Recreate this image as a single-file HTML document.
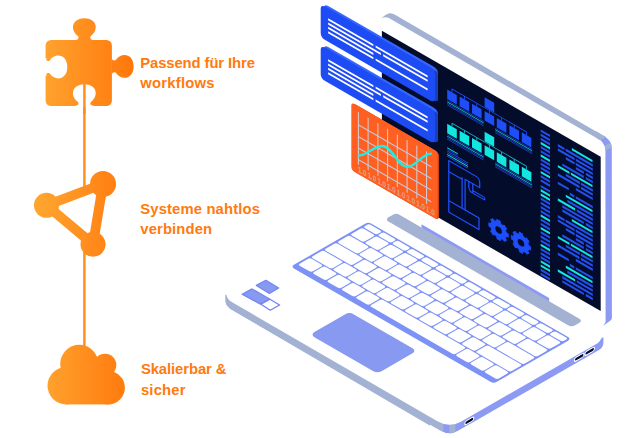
<!DOCTYPE html>
<html><head><meta charset="utf-8"><title>Illustration</title>
<style>html,body{margin:0;padding:0;background:#fff;}svg{display:block;}</style></head>
<body><svg width="626" height="438" viewBox="0 0 626 438">
<rect width="626" height="438" fill="#fff"/>
<defs>
<linearGradient id="og" gradientUnits="userSpaceOnUse" x1="45" y1="0" x2="135" y2="0">
<stop offset="0" stop-color="#FFA22E"/><stop offset="1" stop-color="#FF760A"/></linearGradient>
</defs>
<rect x="83.2" y="84" width="2.4" height="105" fill="#FF8C1C"/>
<rect x="83.2" y="250" width="2.4" height="98" fill="#FF8C1C"/>
<rect x="45.6" y="39.9" width="66.3" height="66.1" rx="5.5" fill="url(#og)"/>
<path d="M74.90 40.20 C77.90 40.20 79.10 38.20 78.10 36.00 C69.60 30.20 71.80 18.20 84.40 18.20 C97.00 18.20 99.20 30.20 90.70 36.00 C89.70 38.20 90.90 40.20 93.90 40.20 Z" fill="url(#og)"/>
<path d="M111.60 56.90 C111.60 59.90 113.60 61.10 115.80 60.10 C121.60 51.60 133.60 53.80 133.60 66.40 C133.60 79.00 121.60 81.20 115.80 72.70 C113.60 71.70 111.60 72.90 111.60 75.90 Z" fill="url(#og)"/>
<path d="M45.30 57.50 C45.30 60.50 47.30 61.70 49.50 60.70 C55.30 52.20 67.30 54.40 67.30 67.00 C67.30 79.60 55.30 81.80 49.50 73.30 C47.30 72.30 45.30 73.50 45.30 76.50 Z" fill="#fff"/>
<path d="M74.90 106.30 C77.90 106.30 79.10 104.30 78.10 102.10 C69.60 96.30 71.80 84.30 84.40 84.30 C97.00 84.30 99.20 96.30 90.70 102.10 C89.70 104.30 90.90 106.30 93.90 106.30 Z" fill="#fff"/>
<rect x="44.4" y="58.2" width="2" height="17.6" fill="#fff"/><rect x="75.6" y="105.4" width="17.6" height="2" fill="#fff"/>
<rect x="83.2" y="84" width="2.4" height="30" fill="#FF8C1C"/>
<g fill="url(#og)" stroke="url(#og)"><path d="M103 184 L46.5 205.3 L93 244.3 Z" fill="none" stroke-width="9.8" stroke-linejoin="round"/><circle cx="103" cy="184" r="13" stroke="none"/><circle cx="46.5" cy="205.3" r="12.5" stroke="none"/><circle cx="93" cy="244.3" r="12.5" stroke="none"/></g>
<g fill="url(#og)"><circle cx="79.3" cy="363.9" r="19.1"/><circle cx="105" cy="365" r="11.3"/><circle cx="66.2" cy="385.7" r="18.7"/><circle cx="108.2" cy="387.7" r="16.7"/><rect x="66" y="372" width="43" height="32.4"/></g>
<path d="M225.6 294.71999999999997 L225.6 301.32 Q225.6 305.71999999999997 231.0 309.22 L231.00 309.22 L441.40 431.25 Q449.40 435.90 457.40 431.35 L599.00 349.93 Q603.4 346.82500000000005 603.4 342.62500000000006 L603.4 337.52500000000003 L600.0 338.02500000000003 L449.4 398.3 Z" fill="#8C9AF4"/>
<path d="M225.6 294.71999999999997 L225.6 301.32 Q225.6 305.71999999999997 231.0 309.22 L443.4 433.41 L443.4 421.81 L231.0 295.71999999999997 Z" fill="#A3B2D3"/>
<polygon points="449.30,420.00 455.40,420.00 455.40,440.00 449.30,440.00" fill="#A3B2D3" />
<path d="M430 424.64 L441.40 431.25 Q449.40 435.90 457.40 431.35 L470 424.10 L470 438 L430 438 Z" fill="#fff"/>
<path d="M226.3 292.71999999999997 Q226.3 299.32 233.0 302.78 L437.40 421.33 Q449.40 428.30 461.40 421.45 L598.00 342.90 Q602.1 339.425 602.1 334.02500000000003 L602.1 300 L400 200 Z" fill="#fff"/>
<g transform="matrix(1 -0.576 0 1 469.3 420.9)"><rect x="-4.5" y="-1.85" width="9.0" height="3.7" rx="1.85" fill="#060A24" stroke="#fff" stroke-width="1.1"/></g>
<g transform="matrix(1 -0.576 0 1 579.2 357.3)"><rect x="-4.8" y="-1.85" width="9.6" height="3.7" rx="1.85" fill="#060A24" stroke="#fff" stroke-width="1.1"/></g>
<g transform="matrix(1 -0.576 0 1 589.7 351.3)"><rect x="-4.8" y="-1.85" width="9.6" height="3.7" rx="1.85" fill="#060A24" stroke="#fff" stroke-width="1.1"/></g>
<polygon points="256.30,285.40 265.90,280.20 278.70,288.00 269.40,293.40" fill="#8799F0" stroke="#7186F3" stroke-width="1.2" stroke-linejoin="round"/>
<polygon points="242.10,294.20 252.00,288.90 269.60,298.90 260.40,304.10" fill="#8799F0" stroke="#7186F3" stroke-width="1.2" stroke-linejoin="round"/>
<polygon points="260.90,304.30 269.90,299.20 279.60,305.00 270.20,310.20" fill="#fff" stroke="#6F84F4" stroke-width="1.3" stroke-linejoin="round"/>
<g transform="matrix(1 0.576 -1 0.576 349.4 311.8)"><rect x="0" y="0" width="67.6" height="39.5" rx="4.5" fill="#8799F0"/></g>
<g transform="matrix(1 0.576 -1 0.576 368.3 222.5)">
<rect x="-0.5" y="-0.5" width="203.0" height="77.60000000000001" rx="3.2" fill="#7E92F6"/>
<rect x="1.43" y="0.90" width="13.25" height="5.70" rx="1.7" fill="#fff"/>
<rect x="15.72" y="0.90" width="13.25" height="5.70" rx="1.7" fill="#fff"/>
<rect x="30.02" y="0.90" width="13.25" height="5.70" rx="1.7" fill="#fff"/>
<rect x="44.32" y="0.90" width="13.25" height="5.70" rx="1.7" fill="#fff"/>
<rect x="58.62" y="0.90" width="13.25" height="5.70" rx="1.7" fill="#fff"/>
<rect x="72.92" y="0.90" width="13.25" height="5.70" rx="1.7" fill="#fff"/>
<rect x="87.22" y="0.90" width="13.25" height="5.70" rx="1.7" fill="#fff"/>
<rect x="101.52" y="0.90" width="13.25" height="5.70" rx="1.7" fill="#fff"/>
<rect x="115.82" y="0.90" width="13.25" height="5.70" rx="1.7" fill="#fff"/>
<rect x="130.12" y="0.90" width="13.25" height="5.70" rx="1.7" fill="#fff"/>
<rect x="144.43" y="0.90" width="13.25" height="5.70" rx="1.7" fill="#fff"/>
<rect x="158.73" y="0.90" width="13.25" height="5.70" rx="1.7" fill="#fff"/>
<rect x="173.03" y="0.90" width="13.25" height="5.70" rx="1.7" fill="#fff"/>
<rect x="187.33" y="0.90" width="13.25" height="5.70" rx="1.7" fill="#fff"/>
<rect x="1.43" y="7.65" width="13.25" height="11.99" rx="1.7" fill="#fff"/>
<rect x="15.72" y="7.65" width="13.25" height="11.99" rx="1.7" fill="#fff"/>
<rect x="30.02" y="7.65" width="13.25" height="11.99" rx="1.7" fill="#fff"/>
<rect x="44.32" y="7.65" width="13.25" height="11.99" rx="1.7" fill="#fff"/>
<rect x="58.62" y="7.65" width="13.25" height="11.99" rx="1.7" fill="#fff"/>
<rect x="72.92" y="7.65" width="13.25" height="11.99" rx="1.7" fill="#fff"/>
<rect x="87.22" y="7.65" width="13.25" height="11.99" rx="1.7" fill="#fff"/>
<rect x="101.52" y="7.65" width="13.25" height="11.99" rx="1.7" fill="#fff"/>
<rect x="115.82" y="7.65" width="13.25" height="11.99" rx="1.7" fill="#fff"/>
<rect x="130.12" y="7.65" width="13.25" height="11.99" rx="1.7" fill="#fff"/>
<rect x="144.43" y="7.65" width="13.25" height="11.99" rx="1.7" fill="#fff"/>
<rect x="158.73" y="7.65" width="13.25" height="11.99" rx="1.7" fill="#fff"/>
<rect x="173.03" y="7.65" width="13.25" height="11.99" rx="1.7" fill="#fff"/>
<rect x="187.33" y="7.65" width="13.25" height="11.99" rx="1.7" fill="#fff"/>
<rect x="1.43" y="20.69" width="20.40" height="11.99" rx="1.7" fill="#fff"/>
<rect x="22.88" y="20.69" width="13.25" height="11.99" rx="1.7" fill="#fff"/>
<rect x="37.17" y="20.69" width="13.25" height="11.99" rx="1.7" fill="#fff"/>
<rect x="51.47" y="20.69" width="13.25" height="11.99" rx="1.7" fill="#fff"/>
<rect x="65.77" y="20.69" width="13.25" height="11.99" rx="1.7" fill="#fff"/>
<rect x="80.07" y="20.69" width="13.25" height="11.99" rx="1.7" fill="#fff"/>
<rect x="94.37" y="20.69" width="13.25" height="11.99" rx="1.7" fill="#fff"/>
<rect x="108.67" y="20.69" width="13.25" height="11.99" rx="1.7" fill="#fff"/>
<rect x="122.97" y="20.69" width="13.25" height="11.99" rx="1.7" fill="#fff"/>
<rect x="137.28" y="20.69" width="13.25" height="11.99" rx="1.7" fill="#fff"/>
<rect x="151.58" y="20.69" width="13.25" height="11.99" rx="1.7" fill="#fff"/>
<rect x="165.88" y="20.69" width="13.25" height="11.99" rx="1.7" fill="#fff"/>
<rect x="180.18" y="20.69" width="20.40" height="11.99" rx="1.7" fill="#fff"/>
<rect x="1.43" y="33.73" width="27.55" height="11.99" rx="1.7" fill="#fff"/>
<rect x="30.02" y="33.73" width="13.25" height="11.99" rx="1.7" fill="#fff"/>
<rect x="44.32" y="33.73" width="13.25" height="11.99" rx="1.7" fill="#fff"/>
<rect x="58.62" y="33.73" width="13.25" height="11.99" rx="1.7" fill="#fff"/>
<rect x="72.92" y="33.73" width="13.25" height="11.99" rx="1.7" fill="#fff"/>
<rect x="87.22" y="33.73" width="13.25" height="11.99" rx="1.7" fill="#fff"/>
<rect x="101.52" y="33.73" width="13.25" height="11.99" rx="1.7" fill="#fff"/>
<rect x="115.82" y="33.73" width="13.25" height="11.99" rx="1.7" fill="#fff"/>
<rect x="130.12" y="33.73" width="13.25" height="11.99" rx="1.7" fill="#fff"/>
<rect x="144.43" y="33.73" width="13.25" height="11.99" rx="1.7" fill="#fff"/>
<rect x="158.73" y="33.73" width="13.25" height="11.99" rx="1.7" fill="#fff"/>
<rect x="173.03" y="33.73" width="27.55" height="11.99" rx="1.7" fill="#fff"/>
<rect x="1.43" y="46.77" width="20.40" height="11.99" rx="1.7" fill="#fff"/>
<rect x="22.88" y="46.77" width="13.25" height="11.99" rx="1.7" fill="#fff"/>
<rect x="37.17" y="46.77" width="13.25" height="11.99" rx="1.7" fill="#fff"/>
<rect x="51.47" y="46.77" width="13.25" height="11.99" rx="1.7" fill="#fff"/>
<rect x="65.77" y="46.77" width="13.25" height="11.99" rx="1.7" fill="#fff"/>
<rect x="80.07" y="46.77" width="13.25" height="11.99" rx="1.7" fill="#fff"/>
<rect x="94.37" y="46.77" width="13.25" height="11.99" rx="1.7" fill="#fff"/>
<rect x="108.67" y="46.77" width="13.25" height="11.99" rx="1.7" fill="#fff"/>
<rect x="122.97" y="46.77" width="13.25" height="11.99" rx="1.7" fill="#fff"/>
<rect x="137.28" y="46.77" width="13.25" height="11.99" rx="1.7" fill="#fff"/>
<rect x="151.58" y="46.77" width="13.25" height="11.99" rx="1.7" fill="#fff"/>
<rect x="165.88" y="46.77" width="34.70" height="11.99" rx="1.7" fill="#fff"/>
<rect x="1.43" y="59.81" width="13.25" height="11.99" rx="1.7" fill="#fff"/>
<rect x="15.72" y="59.81" width="13.25" height="11.99" rx="1.7" fill="#fff"/>
<rect x="30.02" y="59.81" width="13.25" height="11.99" rx="1.7" fill="#fff"/>
<rect x="44.32" y="59.81" width="13.25" height="11.99" rx="1.7" fill="#fff"/>
<rect x="58.62" y="59.81" width="13.25" height="11.99" rx="1.7" fill="#fff"/>
<rect x="72.92" y="59.81" width="84.75" height="11.99" rx="1.7" fill="#fff"/>
<rect x="158.73" y="59.81" width="13.25" height="11.99" rx="1.7" fill="#fff"/>
<rect x="173.03" y="59.81" width="13.25" height="11.99" rx="1.7" fill="#fff"/>
<rect x="187.33" y="59.81" width="13.25" height="11.99" rx="1.7" fill="#fff"/>
</g>
<polygon points="421.50,224.30 549.10,298.05 549.10,303.50 421.50,230.00" fill="#8C9AF4" />
<g transform="matrix(1 0.578 -1 0.578 396.2 212.8)"><rect x="0" y="0" width="186.8" height="11.4" rx="3.6" fill="#A3B2D3"/></g>
<path d="M596 137.68 L596 131.36 L603 135.42 C606.5 137.4 609.5 140 610.6 142.8 C611.4 144.8 611.8 146.5 611.8 148.5 L611.9 317.8 Q611.9 319.6 610.5 320.5 L603.3 325.7 L605.6 322 L605.4 150.7 C605.4 148 605 146.8 604.4 145.7 C603.5 143.6 602 141.5 600.4 140.22 Z" fill="#8C9AF4"/>
<path d="M381.2 18.4 C383.5 16.6 386.5 13.2 390.3 13.2 C392 13.2 393.5 14 395 14.78 L603 135.42 C604.2 135.9 605.2 136.5 606.1 137.1 L600.4 140.22 L388.4 17.68 Q385 16.3 381.2 18.4 Z" fill="#A3B2D3"/>
<path d="M610.6 142.8 C611.4 144.8 611.8 146.5 611.8 147.6 L605.4 150.7 C605.4 148 605 146.8 604.4 145.7 Z" fill="#A3B2D3"/>
<polygon points="381.90,30.80 600.70,156.83 600.70,311.03 381.90,185.00" fill="#030C2B" />
<g transform="matrix(1 0.576 0 1 447.2 89.4)">
<rect x="0" y="0" width="9.6" height="9.6" fill="#1D4EF8"/>
<rect x="12.4" y="0" width="9.6" height="9.6" fill="#1D4EF8"/>
<rect x="24.8" y="0" width="9.6" height="9.6" fill="#1D4EF8"/>
<rect x="37.4" y="0" width="9.6" height="9.6" fill="#1D4EF8"/>
<rect x="49.6" y="0" width="9.6" height="9.6" fill="#1D4EF8"/>
<rect x="62.2" y="0" width="9.6" height="9.6" fill="#1D4EF8"/>
<rect x="74.6" y="0" width="9.6" height="9.6" fill="#1D4EF8"/>
<rect x="37.4" y="-13.6" width="9.6" height="9.6" fill="#1D4EF8"/>
<path d="M4.8 -3.2 H79.4 M4.8 -3.2 V0 M17.2 -3.2 V0 M29.6 -3.2 V0 M42.199999999999996 -3.2 V0 M54.4 -3.2 V0 M67.0 -3.2 V0 M79.39999999999999 -3.2 V0 M42.2 -4 V0 " stroke="#1D4EF8" stroke-width="0.9" fill="none"/>
<rect x="0" y="10.6" width="36.5" height="0.8" fill="#1F49D8"/>
<rect x="0" y="12.1" width="36.5" height="0.8" fill="#12E6E0"/>
<rect x="0" y="13.6" width="36.5" height="0.8" fill="#1F49D8"/>
<rect x="0" y="15.1" width="36.5" height="0.8" fill="#1F49D8"/>
<rect x="48" y="10.6" width="37" height="0.8" fill="#1F49D8"/>
<rect x="48" y="12.1" width="37" height="0.8" fill="#12E6E0"/>
<rect x="48" y="13.6" width="37" height="0.8" fill="#1F49D8"/>
<rect x="48" y="15.1" width="37" height="0.8" fill="#1F49D8"/>
<rect x="0" y="34.3" width="9.6" height="9.6" fill="#12E6E0"/>
<rect x="12.4" y="34.3" width="9.6" height="9.6" fill="#12E6E0"/>
<rect x="24.8" y="34.3" width="9.6" height="9.6" fill="#12E6E0"/>
<rect x="37.4" y="34.3" width="9.6" height="9.6" fill="#12E6E0"/>
<rect x="49.6" y="34.3" width="9.6" height="9.6" fill="#12E6E0"/>
<rect x="62.2" y="34.3" width="9.6" height="9.6" fill="#12E6E0"/>
<rect x="74.6" y="34.3" width="9.6" height="9.6" fill="#12E6E0"/>
<rect x="37.4" y="20.699999999999996" width="9.6" height="9.6" fill="#12E6E0"/>
<path d="M4.8 31.099999999999998 H79.4 M4.8 31.099999999999998 V34.3 M17.2 31.099999999999998 V34.3 M29.6 31.099999999999998 V34.3 M42.199999999999996 31.099999999999998 V34.3 M54.4 31.099999999999998 V34.3 M67.0 31.099999999999998 V34.3 M79.39999999999999 31.099999999999998 V34.3 M42.2 30.299999999999997 V34.3 " stroke="#19B8C8" stroke-width="0.9" fill="none"/>
<rect x="0" y="44.9" width="36.5" height="0.8" fill="#1F49D8"/>
<rect x="0" y="46.4" width="36.5" height="0.8" fill="#12E6E0"/>
<rect x="0" y="47.9" width="36.5" height="0.8" fill="#1F49D8"/>
<rect x="0" y="49.4" width="36.5" height="0.8" fill="#1F49D8"/>
<rect x="48" y="44.9" width="37" height="0.8" fill="#1F49D8"/>
<rect x="48" y="46.4" width="37" height="0.8" fill="#12E6E0"/>
<rect x="48" y="47.9" width="37" height="0.8" fill="#1F49D8"/>
<rect x="48" y="49.4" width="37" height="0.8" fill="#1F49D8"/>
<rect x="0" y="57.8" width="10.5" height="0.95" fill="#12E6E0"/>
<rect x="0" y="59.5" width="10.5" height="0.95" fill="#1F49D8"/>
<rect x="0" y="61.2" width="20.8" height="0.95" fill="#1F49D8"/>
<rect x="0" y="62.9" width="20.8" height="0.95" fill="#1F49D8"/>
<rect x="0" y="64.6" width="20.8" height="0.95" fill="#12E6E0"/>
<rect x="0" y="66.3" width="20.8" height="0.95" fill="#1F49D8"/>
</g>
<g transform="matrix(1 0.576 0 1 448.8 160.6)" fill="none" stroke="#1D4EF8" stroke-width="1.3" stroke-linejoin="round" stroke-linecap="round">
<path d="M0 0 H26.9 Q30.9 0 30.9 4 V9.3 H16.3 V40 H30.2 V51.5 H0 Z"/>
<path d="M0 11 H13.3 V40 M0 40 H16.3 M13.3 11 V9.3"/>
<path d="M20 9.3 V15.5 L21.5 18.5 H24 V16.2 H34.4 Q36 16.2 36 17.5 Q36 18.8 34.4 18.8 H24 M24 9.3 V16.2"/>
</g>
<g transform="matrix(1 0.576 0 1 498.6 230.0)"><path d="M7.77 -1.90 L9.76 -1.67 L9.76 1.67 L7.77 1.90 L6.84 4.15 L8.08 5.72 L5.72 8.08 L4.15 6.84 L1.90 7.77 L1.67 9.76 L-1.67 9.76 L-1.90 7.77 L-4.15 6.84 L-5.72 8.08 L-8.08 5.72 L-6.84 4.15 L-7.77 1.90 L-9.76 1.67 L-9.76 -1.67 L-7.77 -1.90 L-6.84 -4.15 L-8.08 -5.72 L-5.72 -8.08 L-4.15 -6.84 L-1.90 -7.77 L-1.67 -9.76 L1.67 -9.76 L1.90 -7.77 L4.15 -6.84 L5.72 -8.08 L8.08 -5.72 L6.84 -4.15 Z" fill="#1D4EF8" stroke="#1D4EF8" stroke-width="0.8" stroke-linejoin="round"/><circle r="7.7" fill="#1D4EF8"/><circle r="3.3" fill="#030C2B"/></g>
<g transform="matrix(1 0.576 0 1 521.0 242.8)"><path d="M7.77 -1.90 L9.76 -1.67 L9.76 1.67 L7.77 1.90 L6.84 4.15 L8.08 5.72 L5.72 8.08 L4.15 6.84 L1.90 7.77 L1.67 9.76 L-1.67 9.76 L-1.90 7.77 L-4.15 6.84 L-5.72 8.08 L-8.08 5.72 L-6.84 4.15 L-7.77 1.90 L-9.76 1.67 L-9.76 -1.67 L-7.77 -1.90 L-6.84 -4.15 L-8.08 -5.72 L-5.72 -8.08 L-4.15 -6.84 L-1.90 -7.77 L-1.67 -9.76 L1.67 -9.76 L1.90 -7.77 L4.15 -6.84 L5.72 -8.08 L8.08 -5.72 L6.84 -4.15 Z" fill="#1D4EF8" stroke="#1D4EF8" stroke-width="0.8" stroke-linejoin="round"/><circle r="7.7" fill="#1D4EF8"/><circle r="3.3" fill="#030C2B"/></g>
<g transform="matrix(1 0.576 0 1 540.7 0)">
<rect x="0" y="129.40" width="9.3" height="2.35" fill="#2450EE"/>
<rect x="0" y="133.55" width="9.3" height="2.35" fill="#2450EE"/>
<rect x="0" y="137.70" width="9.3" height="2.35" fill="#2450EE"/>
<rect x="0" y="141.85" width="9.3" height="2.35" fill="#12E6E0"/>
<rect x="0" y="146.00" width="9.3" height="2.35" fill="#2450EE"/>
<rect x="0" y="150.15" width="9.3" height="2.35" fill="#2450EE"/>
<rect x="0" y="154.30" width="9.3" height="2.35" fill="#12E6E0"/>
<rect x="0" y="158.45" width="9.3" height="2.35" fill="#2450EE"/>
<rect x="0" y="162.60" width="9.3" height="2.35" fill="#2450EE"/>
<rect x="0" y="166.75" width="9.3" height="2.35" fill="#2450EE"/>
<rect x="0" y="170.90" width="9.3" height="2.35" fill="#12E6E0"/>
<rect x="0" y="175.05" width="9.3" height="2.35" fill="#2450EE"/>
<rect x="0" y="179.20" width="9.3" height="2.35" fill="#2450EE"/>
<rect x="0" y="184.90" width="9.3" height="2.35" fill="#2450EE"/>
<rect x="0" y="189.10" width="9.3" height="2.35" fill="#12E6E0"/>
<rect x="0" y="193.30" width="9.3" height="2.35" fill="#12E6E0"/>
<rect x="0" y="197.50" width="9.3" height="2.35" fill="#2450EE"/>
<rect x="0" y="201.70" width="9.3" height="2.35" fill="#2450EE"/>
<rect x="0" y="205.90" width="9.3" height="2.35" fill="#2450EE"/>
<rect x="0" y="210.10" width="9.3" height="2.35" fill="#2450EE"/>
<rect x="0" y="214.30" width="9.3" height="2.35" fill="#12E6E0"/>
<rect x="0" y="218.50" width="9.3" height="2.35" fill="#2450EE"/>
<rect x="0" y="222.70" width="9.3" height="2.35" fill="#2450EE"/>
<rect x="0" y="226.90" width="9.3" height="2.35" fill="#12E6E0"/>
<rect x="0" y="231.10" width="9.3" height="2.35" fill="#2450EE"/>
<rect x="0" y="235.30" width="9.3" height="2.35" fill="#2450EE"/>
<rect x="0" y="239.50" width="9.3" height="2.35" fill="#2450EE"/>
<rect x="0" y="243.70" width="9.3" height="2.35" fill="#12E6E0"/>
<rect x="0" y="247.90" width="9.3" height="2.35" fill="#2450EE"/>
<rect x="0" y="252.10" width="9.3" height="2.35" fill="#2450EE"/>
<rect x="0" y="256.10" width="9.3" height="2.35" fill="#2450EE"/>
<rect x="0" y="260.25" width="9.3" height="2.35" fill="#12E6E0"/>
<rect x="0" y="264.40" width="9.3" height="2.35" fill="#12E6E0"/>
<rect x="0" y="268.55" width="9.3" height="2.35" fill="#2450EE"/>
<rect x="0" y="272.70" width="9.3" height="2.35" fill="#2450EE"/>
</g>
<g transform="matrix(1 0.576 0 1 557.8 139.95)">
<rect x="14" y="0.00" width="20.7" height="2.35" fill="#12E6E0"/>
<rect x="0" y="4.17" width="6.7" height="2.35" fill="#2450EE"/>
<rect x="7.8" y="4.17" width="27.2" height="2.35" fill="#2450EE"/>
<rect x="0" y="8.35" width="16.8" height="2.35" fill="#2450EE"/>
<rect x="18" y="8.35" width="17.0" height="2.35" fill="#2450EE"/>
<rect x="8" y="12.52" width="8.8" height="2.35" fill="#2450EE"/>
<rect x="18" y="12.52" width="17.0" height="2.35" fill="#2450EE"/>
<rect x="18" y="16.69" width="8.0" height="2.35" fill="#2450EE"/>
<rect x="28" y="16.69" width="7.0" height="2.35" fill="#2450EE"/>
<rect x="4.5" y="20.87" width="21.5" height="2.35" fill="#2450EE"/>
<rect x="28" y="20.87" width="7.0" height="2.35" fill="#2450EE"/>
<rect x="0" y="25.04" width="11.7" height="2.35" fill="#12E6E0"/>
<rect x="13" y="25.04" width="21.7" height="2.35" fill="#12E6E0"/>
<rect x="8" y="29.21" width="14.0" height="2.35" fill="#2450EE"/>
<rect x="23" y="29.21" width="12.0" height="2.35" fill="#2450EE"/>
<rect x="0" y="33.38" width="21.7" height="2.35" fill="#2450EE"/>
<rect x="23" y="33.38" width="12.0" height="2.35" fill="#2450EE"/>
<rect x="18" y="37.56" width="17.0" height="2.35" fill="#2450EE"/>
<rect x="0" y="41.73" width="11.0" height="2.35" fill="#2450EE"/>
<rect x="12" y="45.90" width="4.5" height="2.35" fill="#2450EE"/>
<rect x="18" y="45.90" width="17.0" height="2.35" fill="#2450EE"/>
<rect x="8" y="50.08" width="26.7" height="2.35" fill="#12E6E0"/>
<rect x="9.5" y="54.25" width="25.5" height="2.35" fill="#2450EE"/>
<rect x="0" y="58.42" width="17.3" height="2.35" fill="#12E6E0"/>
<rect x="19" y="58.42" width="16.0" height="2.35" fill="#2450EE"/>
<rect x="4.5" y="62.59" width="30.5" height="2.35" fill="#2450EE"/>
<rect x="4.5" y="66.77" width="21.5" height="2.35" fill="#2450EE"/>
<rect x="28" y="66.77" width="7.0" height="2.35" fill="#2450EE"/>
<rect x="14" y="70.94" width="20.7" height="2.35" fill="#12E6E0"/>
<rect x="0" y="75.11" width="6.7" height="2.35" fill="#2450EE"/>
<rect x="7.8" y="75.11" width="27.2" height="2.35" fill="#2450EE"/>
<rect x="0" y="79.29" width="16.8" height="2.35" fill="#2450EE"/>
<rect x="18" y="79.29" width="17.0" height="2.35" fill="#2450EE"/>
<rect x="8" y="83.46" width="8.8" height="2.35" fill="#2450EE"/>
<rect x="18" y="83.46" width="17.0" height="2.35" fill="#2450EE"/>
<rect x="18" y="87.63" width="8.0" height="2.35" fill="#2450EE"/>
<rect x="28" y="87.63" width="7.0" height="2.35" fill="#2450EE"/>
<rect x="4.5" y="91.81" width="21.5" height="2.35" fill="#2450EE"/>
<rect x="28" y="91.81" width="7.0" height="2.35" fill="#2450EE"/>
<rect x="0" y="95.98" width="11.7" height="2.35" fill="#12E6E0"/>
<rect x="13" y="95.98" width="21.7" height="2.35" fill="#12E6E0"/>
<rect x="8" y="100.15" width="14.0" height="2.35" fill="#2450EE"/>
<rect x="23" y="100.15" width="12.0" height="2.35" fill="#2450EE"/>
<rect x="0" y="104.33" width="21.7" height="2.35" fill="#2450EE"/>
<rect x="23" y="104.33" width="12.0" height="2.35" fill="#2450EE"/>
<rect x="18" y="108.50" width="17.0" height="2.35" fill="#2450EE"/>
<rect x="0" y="112.67" width="11.0" height="2.35" fill="#2450EE"/>
<rect x="12" y="116.84" width="4.5" height="2.35" fill="#2450EE"/>
<rect x="18" y="116.84" width="17.0" height="2.35" fill="#2450EE"/>
<rect x="8" y="121.02" width="26.7" height="2.35" fill="#12E6E0"/>
<rect x="9.5" y="125.19" width="25.5" height="2.35" fill="#2450EE"/>
<rect x="0" y="129.36" width="17.3" height="2.35" fill="#12E6E0"/>
<rect x="19" y="129.36" width="16.0" height="2.35" fill="#2450EE"/>
<rect x="4.5" y="133.54" width="30.5" height="2.35" fill="#2450EE"/>
<rect x="4.5" y="137.71" width="21.5" height="2.35" fill="#2450EE"/>
<rect x="28" y="137.71" width="7.0" height="2.35" fill="#2450EE"/>
</g>
<g transform="matrix(1 0.576 0 1 323.7 3.3)"><rect x="0" y="0" width="114.3" height="33.4" rx="4.5" fill="#3567FF"/><rect x="108.3" y="3.2" width="6" height="29.2" rx="2" fill="#1640C2"/></g>
<g transform="matrix(1 0.576 0 1 320.7 4.0)">
<rect x="0" y="0" width="114.3" height="33.4" rx="4.5" fill="#1E4CF4"/>
<rect x="7.4" y="10.00" width="45.3" height="2.0" fill="#fff"/>
<rect x="54.9" y="10.00" width="52.0" height="2.0" fill="#fff"/>
<rect x="7.4" y="14.30" width="52.8" height="2.0" fill="#fff"/>
<rect x="62.4" y="14.30" width="44.5" height="2.0" fill="#fff"/>
<rect x="7.4" y="18.60" width="45.3" height="2.0" fill="#fff"/>
<rect x="7.4" y="22.90" width="45.3" height="2.0" fill="#fff"/>
<rect x="54.9" y="22.90" width="52.0" height="2.0" fill="#fff"/>
</g>
<g transform="matrix(1 0.576 0 1 323.7 44.3)"><rect x="0" y="0" width="114.3" height="33.4" rx="4.5" fill="#3567FF"/><rect x="108.3" y="3.2" width="6" height="29.2" rx="2" fill="#1640C2"/></g>
<g transform="matrix(1 0.576 0 1 320.7 45.0)">
<rect x="0" y="0" width="114.3" height="33.4" rx="4.5" fill="#1E4CF4"/>
<rect x="7.4" y="10.00" width="45.3" height="2.0" fill="#fff"/>
<rect x="54.9" y="10.00" width="52.0" height="2.0" fill="#fff"/>
<rect x="7.4" y="14.30" width="52.8" height="2.0" fill="#fff"/>
<rect x="62.4" y="14.30" width="44.5" height="2.0" fill="#fff"/>
<rect x="7.4" y="18.60" width="45.3" height="2.0" fill="#fff"/>
<rect x="7.4" y="22.90" width="45.3" height="2.0" fill="#fff"/>
<rect x="54.9" y="22.90" width="52.0" height="2.0" fill="#fff"/>
</g>
<g transform="matrix(1 0.576 0 1 351.3 102)">
<rect x="1.3" y="0" width="86.3" height="68" rx="3.5" fill="#E2471A"/>
<rect x="0" y="0" width="86.3" height="68" rx="3.5" fill="#FF5F20"/>
<rect x="6.55" y="6" width="1.05" height="52.5" fill="#D2CCD0"/>
<rect x="16.29" y="6" width="1.05" height="52.5" fill="#D2CCD0"/>
<rect x="26.03" y="6" width="1.05" height="52.5" fill="#D2CCD0"/>
<rect x="35.77" y="6" width="1.05" height="52.5" fill="#D2CCD0"/>
<rect x="45.51" y="6" width="1.05" height="52.5" fill="#D2CCD0"/>
<rect x="55.25" y="6" width="1.05" height="52.5" fill="#D2CCD0"/>
<rect x="64.99" y="6" width="1.05" height="52.5" fill="#D2CCD0"/>
<rect x="74.73" y="6" width="1.05" height="52.5" fill="#D2CCD0"/>
<rect x="7.1" y="18.20" width="73" height="1.25" fill="#BFCCE0"/>
<rect x="7.1" y="29.80" width="73" height="1.25" fill="#BFCCE0"/>
<rect x="7.1" y="41.40" width="73" height="1.25" fill="#BFCCE0"/>
<rect x="7.1" y="53.00" width="73" height="1.25" fill="#BFCCE0"/>
<g font-family="'Liberation Sans', sans-serif" font-weight="bold" font-size="8" fill="#DFA58A">
<text x="6.60" y="65.9" textLength="8.6" lengthAdjust="spacingAndGlyphs">1.0</text>
<text x="16.34" y="65.9" textLength="8.6" lengthAdjust="spacingAndGlyphs">1.0</text>
<text x="26.08" y="65.9" textLength="8.6" lengthAdjust="spacingAndGlyphs">1.0</text>
<text x="35.82" y="65.9" textLength="8.6" lengthAdjust="spacingAndGlyphs">1.0</text>
<text x="45.56" y="65.9" textLength="8.6" lengthAdjust="spacingAndGlyphs">1.0</text>
<text x="55.30" y="65.9" textLength="8.6" lengthAdjust="spacingAndGlyphs">1.0</text>
<text x="65.04" y="65.9" textLength="8.6" lengthAdjust="spacingAndGlyphs">1.0</text>
<text x="74.78" y="65.9" textLength="8.6" lengthAdjust="spacingAndGlyphs">1.0</text>
</g>
</g>
<path d="M358.9 155.6 C368 154.8 374 146 382.3 146 C392 146 398 166.8 407 166.8 C416 166.8 421 154.6 431 153.6" fill="none" stroke="#1FEDE2" stroke-width="2.4" stroke-linecap="round"/>
<g font-family="'Liberation Sans', sans-serif" font-weight="bold" font-size="14.8" fill="#FF7A0F">
<text x="140.3" y="67.8" textLength="114.6" lengthAdjust="spacing">Passend für Ihre</text>
<text x="140.3" y="88" textLength="74.2" lengthAdjust="spacing">workflows</text>
<text x="140.3" y="214.2" textLength="119.6" lengthAdjust="spacing">Systeme nahtlos</text>
<text x="140.3" y="234.3" textLength="71.8" lengthAdjust="spacing">verbinden</text>
<text x="140.9" y="373.9" textLength="85.6" lengthAdjust="spacing">Skalierbar &amp;</text>
<text x="140.9" y="394.7" textLength="44.6" lengthAdjust="spacing">sicher</text>
</g>
</svg></body></html>
